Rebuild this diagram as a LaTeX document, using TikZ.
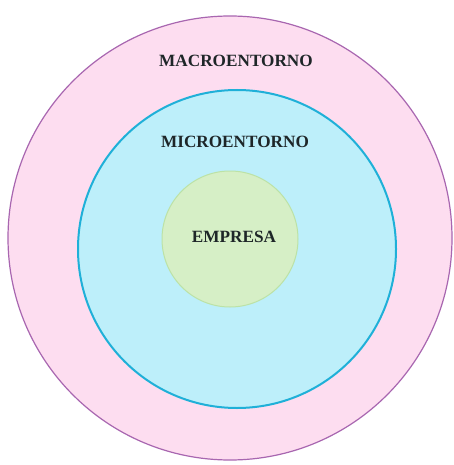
\documentclass[tikz,border=0pt]{standalone}
\usepackage{fontspec}
\setmainfont{Liberation Serif}
\definecolor{macrofill}{HTML}{FDDDF0}
\definecolor{macroline}{HTML}{A866B0}
\definecolor{microfill}{HTML}{BDEFFA}
\definecolor{microline}{HTML}{1FB0D8}
\definecolor{empresafill}{HTML}{D6EFC6}
\definecolor{empresaline}{HTML}{BCE2A6}
\definecolor{labeltext}{HTML}{1E2628}
\tikzset{
    ring/.style={circle, inner sep=0pt, outer sep=0pt},
    ringlabel/.style={font=\bfseries\fontsize{17.2}{19}\selectfont, text=labeltext, inner sep=0pt}
}
\begin{document}
\begin{tikzpicture}[x=1pt, y=-1pt]
    \useasboundingbox (0,0) rectangle (454,465);
    \fill[white] (0,0) rectangle (454,465);

    \node[ring, draw=macroline, line width=1.2pt, fill=macrofill, minimum size=444pt] (macro) at (230,238) {};
    \node[ring, draw=microline, line width=2pt, fill=microfill, minimum size=318pt] (micro) at (237,249) {};
    \node[ring, draw=empresaline, line width=1pt, fill=empresafill, minimum size=136pt] (empresa) at (230,239) {};

    \node[ringlabel] (macrolabel) at (236,61) {MACROENTORNO};
    \node[ringlabel] (microlabel) at (235,142) {MICROENTORNO};
    \node[ringlabel] (empresalabel) at (234,237) {EMPRESA};
\end{tikzpicture}
\end{document}
